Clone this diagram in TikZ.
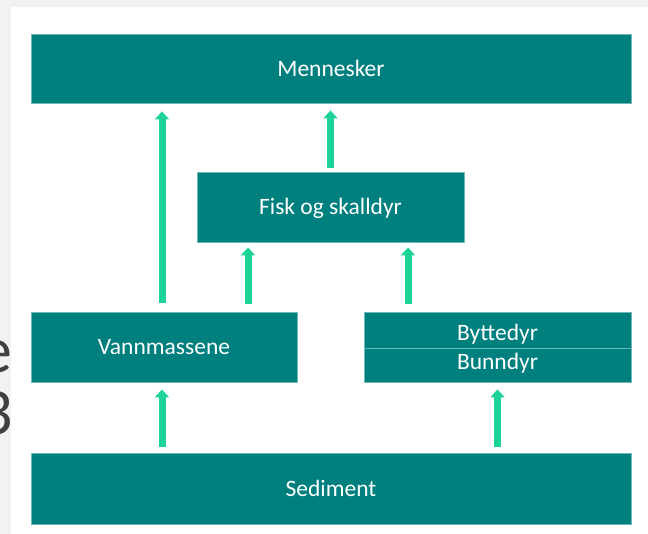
\documentclass[tikz,border=0pt]{standalone}
\usepackage{fontspec}
\setmainfont{Carlito}
\usepackage{tikz}
\usetikzlibrary{arrows.meta}

\definecolor{teal}{HTML}{007F7F}
\definecolor{tealedge}{HTML}{6FB9B9}
\definecolor{leaf}{HTML}{1ED39A}
\definecolor{pagegray}{HTML}{F2F2F2}

\begin{document}
\begin{tikzpicture}[x=1pt,y=-1pt,
    box/.style={fill=teal, draw=tealedge, line width=0.8pt, text=white,
      font=\fontsize{23.5}{27}\selectfont, inner sep=0pt, text height=16pt, text depth=0pt},
    flow/.style={leaf, line width=7pt, -{Triangle[width=14pt,length=8pt]}}]
      \useasboundingbox (0,0) rectangle (648,534);
      \fill[pagegray] (0,0) rectangle (648,534);
      % leftover text of the slide behind
      \begin{scope}
        \clip (0,0) rectangle (11,534);
        \node[anchor=base east, text=black!75, font=\fontsize{66}{66}\selectfont, inner sep=0pt] (e) at (13,373) {e};
        \node[anchor=base east, text=black!75, font=\fontsize{66}{66}\selectfont, inner sep=0pt] (three) at (13,435) {3};
      \end{scope}
      \fill[white] (11,7) rectangle (648,534);

      \node[box, minimum width=600pt, minimum height=69pt] (top) at (331,68.5) {Mennesker};
      \node[box, minimum width=267pt, minimum height=70pt] (fisk) at (330.5,207) {Fisk og skalldyr};
      \node[box, minimum width=266pt, minimum height=70pt] (vann) at (164,347) {Vannmassene};
      \node[box, minimum width=267pt, minimum height=36pt, text height=21pt] (bytte) at (497.5,330) {Byttedyr};
      \node[box, minimum width=267pt, minimum height=34pt, text height=10pt] (bunn) at (497.5,365) {Bunndyr};
      \node[box, minimum width=600pt, minimum height=71pt] (sed) at (331,488.5) {Sediment};

      \draw[flow, shorten <=6pt, shorten >=7pt] ([xshift=-2pt]sed.north -| vann.north) -- ([xshift=-2pt]vann.south);
      \draw[flow, shorten <=6pt, shorten >=7pt] (sed.north -| bunn.south) -- (bunn.south);
      \draw[flow, shorten <=9pt, shorten >=8pt] ([xshift=-2pt]vann.north) -- ([xshift=-2pt]vann.north |- top.south);
      \draw[flow, shorten <=8pt, shorten >=5pt] ([xshift=84pt]vann.north) -- ([xshift=84pt]vann.north |- fisk.south);
      \draw[flow, shorten <=8pt, shorten >=5pt] ([xshift=-89.5pt]bytte.north) -- ([xshift=-89.5pt]bytte.north |- fisk.south);
      \draw[flow, shorten <=4pt, shorten >=7pt] (fisk.north) -- (fisk.north |- top.south);
    \end{tikzpicture}
\end{document}
